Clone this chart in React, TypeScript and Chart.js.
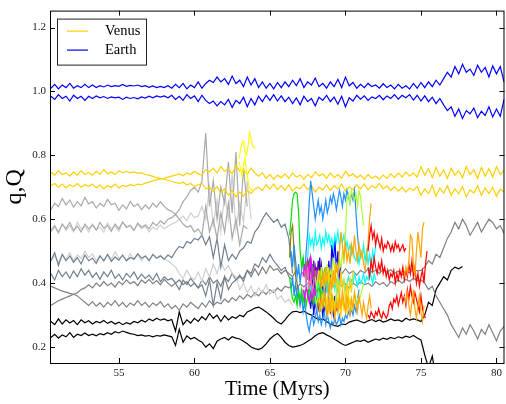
import React, { useEffect, useRef } from 'react';
import { Chart, registerables } from 'chart.js';

Chart.register(...registerables);

// ---------- axes / labels ----------
const X_TICKS = [55, 60, 65, 70, 75, 80];
const Y_TICKS = [0.2, 0.4, 0.6, 0.8, 1.0, 1.2];
const X_MIN = 50.44;
const X_MAX = 80.53;
const Y_MIN = 0.15;
const Y_MAX = 1.253;
const X_TITLE = 'Time (Myrs)';
const Y_TITLE = 'q,Q';
const LEGEND_LABELS = ['Venus', 'Earth'];

// ---------- sampling of the tracks (Myr) ----------
const LONG_START = 50.5;
const LONG_STEP = 0.25;
const SHORT_STEP = 0.1;

// ---------- long tracks (aphelion Q / perihelion q, AU) ----------
const EARTH_Q = [1.010,1.022,1.008,1.020,1.012,1.025,1.010,1.018,1.012,1.022,1.012,
 1.020,1.012,1.018,1.014,1.020,1.015,1.018,1.016,1.022,1.016,1.019,1.017,1.020,1.015,1.018,1.013,1.017,1.012,1.016,1.012,
 1.018,1.010,1.022,1.012,1.025,1.008,1.020,1.012,1.030,1.010,1.025,
 1.035,1.028,1.045,1.030,1.040,1.022,1.048,1.025,1.035,1.015,1.045,1.020,1.040,
 1.012,1.030,1.010,1.025,1.008,1.028,1.012,1.030,
 1.015,1.035,1.018,1.040,1.012,1.030,1.020,1.042,1.015,1.025,1.010,1.030,1.015,1.038,1.012,1.045,1.018,1.028,
 1.010,1.022,1.012,1.025,1.015,1.020,1.010,1.024,1.012,1.020,1.008,1.022,1.010,1.018,1.008,1.025,1.010,1.028,1.012,1.030,1.015,1.035,1.020,
 1.040,1.060,1.045,1.078,1.055,1.085,1.060,1.070,1.050,1.082,1.060,1.075,1.045,1.080,1.055,1.078,1.030];
const EARTH_q = [0.985,0.975,0.990,0.978,0.985,0.970,0.988,0.978,0.985,0.972,0.985,
 0.978,0.986,0.980,0.984,0.978,0.983,0.980,0.982,0.975,0.982,0.978,0.981,0.977,0.983,0.979,0.985,0.980,0.986,0.982,0.986,
 0.980,0.988,0.975,0.985,0.972,0.990,0.978,0.986,0.968,0.988,0.972,
 0.962,0.970,0.955,0.968,0.958,0.975,0.950,0.972,0.962,0.982,0.952,0.978,0.958,
 0.985,0.968,0.988,0.972,0.990,0.970,0.986,0.968,
 0.982,0.962,0.980,0.958,0.985,0.968,0.978,0.955,0.982,0.972,0.988,0.968,0.982,0.960,0.985,0.952,0.980,0.970,
 0.988,0.976,0.986,0.972,0.983,0.978,0.988,0.974,0.986,0.978,0.990,0.976,0.988,0.980,0.990,0.973,0.988,0.970,0.986,0.968,0.982,0.962,0.978,
 0.958,0.940,0.952,0.922,0.945,0.915,0.940,0.930,0.948,0.918,0.938,0.925,0.952,0.920,0.945,0.922,0.975];

const VENUS_Q = [0.748,0.738,0.752,0.740,0.745,0.735,0.748,0.738,0.752,0.740,0.746,
 0.738,0.750,0.740,0.755,0.742,0.748,0.740,0.752,0.745,0.750,
 0.745,0.748,0.744,0.745,0.740,0.738,0.734,0.730,0.727,
 0.728,0.732,0.735,0.738,0.742,0.736,0.745,0.740,0.750,0.742,0.738,0.755,
 0.748,0.760,0.745,0.765,0.750,0.758,0.742,0.768,0.750,0.755,0.740,0.760,0.745,
 0.735,0.745,0.728,0.740,0.725,0.738,0.730,0.742,0.728,0.745,0.732,0.738,0.725,0.740,0.730,0.748,0.735,0.742,0.728,0.745,0.730,0.740,0.728,0.750,0.735,0.742,0.730,0.738,0.725,0.740,0.728,0.735,0.725,0.738,0.728,0.742,0.730,0.745,0.732,0.748,0.735,
 0.745,0.732,0.765,0.738,0.758,0.730,0.762,0.735,0.755,0.728,0.760,0.738,0.752,0.730,0.765,0.740,0.755,0.728,0.762,0.735,0.758,0.732,0.765,0.740,0.752];
const VENUS_q = [0.705,0.712,0.700,0.710,0.698,0.708,0.702,0.712,0.700,0.708,0.703,
 0.710,0.698,0.708,0.695,0.705,0.700,0.710,0.698,0.706,0.702,
 0.708,0.705,0.710,0.708,0.713,0.716,0.720,0.724,0.727,
 0.726,0.722,0.718,0.715,0.712,0.716,0.708,0.712,0.702,0.708,0.712,0.695,
 0.700,0.688,0.702,0.682,0.695,0.675,0.690,0.670,0.685,0.672,0.690,0.680,0.695,
 0.700,0.690,0.708,0.695,0.710,0.692,0.705,0.690,0.708,0.688,0.700,0.695,0.710,0.692,0.705,0.685,0.700,0.692,0.708,0.690,0.705,0.695,0.710,0.688,0.702,0.692,0.708,0.695,0.710,0.692,0.705,0.698,0.712,0.695,0.705,0.690,0.702,0.688,0.700,0.685,0.698,
 0.690,0.702,0.675,0.695,0.680,0.705,0.672,0.698,0.682,0.705,0.675,0.695,0.680,0.702,0.670,0.692,0.682,0.705,0.675,0.698,0.680,0.700,0.672,0.695,0.685];

const DARKGRAY_Q = [0.630,0.650,0.640,0.665,0.645,0.660,0.638,0.655,0.642,0.668,0.648,0.655,0.635,0.650,0.640,0.662,0.645,0.650,0.628,0.645,0.632,0.655,0.640,0.648,0.630,0.645,0.632,0.650,0.638,0.655,0.640,0.630,0.625,0.615,
 0.630,0.655,0.670,0.690,0.700,0.685,
 0.720,0.870,0.640,0.720,0.600,0.700,0.650,0.780,0.620,0.810,0.580,0.760,0.640];
const DARKGRAY_q = [0.565,0.580,0.560,0.585,0.570,0.590,0.565,0.578,0.560,0.585,0.570,0.582,0.565,0.590,0.572,0.580,0.562,0.585,0.570,0.592,0.575,0.580,0.565,0.588,0.575,0.582,0.570,0.590,0.580,0.595,0.585,0.600,0.605,0.615,
 0.600,0.585,0.575,0.580,0.560,0.570,
 0.550,0.640,0.560,0.600,0.540,0.620,0.560,0.650,0.540,0.600,0.520,0.580,0.570];

const LIGHTGRAY_Q = [0.560,0.575,0.555,0.585,0.565,0.580,0.560,0.590,0.570,0.578,0.560,0.585,0.568,0.575,0.560,0.588,0.570,0.580,0.562,0.590,0.575,0.582,0.565,0.585,0.570,0.578,0.560,0.575,0.568,0.582,0.570,0.578,0.585,0.590,
 0.600,0.610,0.595,0.620,0.605,0.610,
 0.640,0.600,0.700,0.580,0.660,0.560,0.680,0.600,0.740,0.570,0.650,0.590,0.720,0.600];
const LIGHTGRAY_q = [0.470,0.485,0.465,0.490,0.475,0.495,0.470,0.488,0.478,0.500,0.480,0.492,0.470,0.485,0.468,0.490,0.475,0.498,0.478,0.485,0.470,0.492,0.475,0.488,0.470,0.485,0.472,0.490,0.478,0.488,0.475,0.470,0.460,0.450,
 0.430,0.415,0.440,0.420,0.410,0.435,0.405,0.445,0.420,0.460,0.430,0.470,0.440,0.455,0.430,0.420,0.380,0.400,0.370,0.390,0.360,0.385,0.370,0.395,0.365,0.380,0.350,0.360,0.340,0.350,0.330];

const SLATE_Q = [0.470,0.495,0.455,0.490,0.470,0.485,0.465,0.480,0.460,0.488,0.470,0.478,0.462,0.485,0.470,0.490,0.468,0.482,0.472,0.488,0.470,0.480,0.475,0.492,0.478,0.485,0.470,0.490,0.478,0.485,0.475,0.488,0.480,
 0.500,0.515,0.510,0.530,0.525,0.540,0.535,
 0.550,0.520,0.545,0.480,0.540,0.450,0.520,0.470,
 0.490,0.475,0.500,0.510,0.530,0.525,0.560,0.575,0.600,0.620,0.605,0.590,0.600,0.575,0.585,0.540,0.430];
const SLATE_q = [0.430,0.410,0.440,0.420,0.435,0.415,0.438,0.420,0.445,0.425,0.440,0.418,0.432,0.412,0.435,0.420,0.440,0.415,0.428,0.410,0.430,0.418,0.435,0.412,0.428,0.415,0.425,0.410,0.430,0.405,0.420,0.410,0.415,
 0.400,0.410,0.395,0.405,0.390,0.400,0.385,
 0.395,0.360,0.410,0.330,0.400,0.350,0.420,0.380,
 0.400,0.410,0.420,0.415,0.440,0.430,0.460,0.450,0.480,0.465,0.490,0.470,0.455,0.440,0.450,0.420,0.410];

const GRAY_Q = [0.390,0.385,0.380,0.375,0.372,0.368,0.365,
 0.370,0.380,0.385,0.395,0.385,0.400,0.390,0.405,0.392,0.400,0.388,0.405,0.395,0.410,0.398,0.405,0.392,0.410,0.400,0.412,0.398,0.408,0.395,0.412,0.400,0.390,
 0.400,0.380,0.410,0.395,0.415,0.400,0.385,0.410,0.395,0.420,0.400,0.410,0.390,0.420,0.405,0.430,0.410,0.425,0.405,0.440,0.420,0.445,0.425,0.450,0.430,0.455,0.440,0.445,0.430,0.440,
 0.430,0.420,0.440,0.425,0.435,0.420,0.438,0.428,0.440,0.425,0.435,0.420,0.432,0.440,0.428,0.445,0.430,0.438,0.425,0.440,0.432,0.445,0.435,0.440,0.430,0.445,0.435,0.442,0.430,0.438,0.425,0.440,0.432,0.445,0.438,0.440,
 0.450,0.470,0.460,0.490,0.480,0.510,0.540,0.560,0.590,0.570,0.600,0.580,0.550,0.570,0.590,0.560,0.580,0.600,0.590,0.570,0.580,0.555];
const GRAY_q = [0.330,0.338,0.345,0.350,0.355,0.360,0.365,
 0.360,0.350,0.340,0.330,0.342,0.328,0.338,0.325,0.340,0.330,0.345,0.328,0.340,0.325,0.338,0.330,0.345,0.330,0.340,0.325,0.338,0.330,0.342,0.325,0.335,0.320,
 0.330,0.315,0.335,0.325,0.340,0.330,0.320,0.338,0.325,0.345,0.330,0.340,0.335,0.350,0.340,0.355,0.345,0.360,0.350,0.365,0.355,0.370,0.360,0.375,0.365,0.380,0.370,0.385,0.375,0.390,
 0.385,0.395,0.380,0.398,0.388,0.400,0.390,0.395,0.385,0.400,0.392,0.398,0.388,0.402,0.390,0.398,0.385,0.400,0.392,0.405,0.395,0.400,0.390,0.405,0.395,0.402,0.390,0.405,0.398,0.410,0.400,0.412,0.405,0.415,0.408,0.410,
 0.400,0.380,0.390,0.360,0.340,0.320,0.300,0.270,0.250,0.230,0.260,0.240,0.270,0.250,0.225,0.255,0.240,0.270,0.245,0.220,0.250,0.265];

const BLACK_Q = [0.280,0.270,0.288,0.272,0.285,0.275,0.283,0.270,0.285,0.276,0.282,0.272,0.280,0.276,0.283,0.274,0.280,0.272,0.278,0.270,0.276,0.272,0.280,0.276,0.284,0.278,0.288,0.282,0.290,0.284,0.288,0.282,0.286,
 0.250,0.310,0.270,0.285,0.275,0.290,0.280,
 0.295,0.285,0.305,0.290,0.300,0.280,0.298,0.285,0.295,0.290,0.300,0.295,0.310,0.315,0.322,
 0.325,0.318,0.310,0.300,0.290,0.278,0.272,0.285,0.300,0.310,0.312,0.308,
 0.312,0.305,0.300,0.292,0.285,0.288,0.280,0.272,0.268,0.265,0.272,0.270,0.278,0.282,0.285,0.280,0.276,0.282,0.286,0.280,0.285,0.278,0.282,0.288,0.283,0.285,0.280,0.290,0.284,0.288,0.285,0.280,
 0.300,0.340,0.330,0.380,0.400,0.420,0.410,0.440,0.450,0.445,0.452];
const BLACK_q = [0.230,0.240,0.228,0.238,0.232,0.245,0.230,0.240,0.236,0.244,0.236,0.240,0.235,0.242,0.238,0.245,0.240,0.248,0.244,0.250,0.246,0.242,0.240,0.236,0.238,0.234,0.236,0.232,0.236,0.234,0.238,0.235,0.232,
 0.205,0.255,0.215,0.235,0.225,0.230,0.222,
 0.215,0.200,0.210,0.195,0.218,0.225,0.230,0.222,0.232,0.228,0.225,0.218,0.210,0.200,0.195,
 0.192,0.198,0.210,0.225,0.235,0.242,0.230,0.215,0.205,0.200,0.202,0.205,
 0.210,0.218,0.225,0.235,0.242,0.245,0.238,0.232,0.225,0.218,0.210,0.205,0.210,0.215,0.220,0.218,0.222,0.215,0.220,0.225,0.222,0.228,0.224,0.230,0.226,0.232,0.228,0.234,0.230,0.236,0.228,0.222,
 0.175,0.135,0.172,0.100];

// ---------- short tracks ----------
const YELLOW_START = 62.95;
const YELLOW_Q = [0.790,0.815,0.840,0.845,0.810,0.800,0.830,0.870,0.850,0.830,0.825,0.822];
const YELLOW_q = [0.780,0.760,0.735,0.770,0.790,0.750,0.720,0.700,0.690,0.695];

const OLIVE_START = 66.3;
const OLIVE = [0.48,0.56,0.58,0.50,0.42,0.40,0.36,0.33];

const GREEN_START = 66.3;
const GREEN_Q = [0.55,0.60,0.66,0.68,0.685,0.68,0.62,0.50,0.45,0.48,0.43,0.47,0.41,0.46,0.42,0.45,0.40,0.44,0.38,0.42,0.39,0.43,0.40,0.44,0.41,0.45];
const GREEN_q = [0.42,0.38,0.35,0.34,0.36,0.33,0.37,0.35,0.38,0.34,0.37,0.33,0.36,0.39,0.35,0.38,0.34,0.37,0.40,0.36,0.39,0.35,0.38];

const DODGER_START = 66.4;
const DODGER_Q = [0.50,0.45,0.52,0.47,0.42,0.46,0.40,0.44,0.48,0.42,0.50,0.56,0.65,0.72,0.68,0.64,0.60,0.63,0.66,0.62,0.64,0.60,0.63,0.66,0.62,0.64,0.67,0.65,0.68,0.66,0.63,0.66,0.69,0.67,0.64,0.68,0.66,0.69,0.67,0.65,0.68,0.66,0.69,0.62,0.55,0.50];
const DODGER_q = [0.38,0.42,0.36,0.40,0.35,0.38,0.33,0.36,0.31,0.34,0.30,0.27,0.25,0.28,0.30,0.27,0.29,0.32,0.28,0.30,0.27,0.29,0.31,0.27,0.30,0.28,0.26,0.28,0.27,0.29,0.27,0.28,0.30,0.27,0.29,0.28,0.30,0.29,0.31,0.30,0.32,0.30,0.33,0.31,0.35,0.38];

const CYAN_START = 67.5;
const CYAN_Q = [0.48,0.55,0.52,0.54,0.51,0.56,0.52,0.53,0.55,0.51,0.54,0.52,0.56,0.53,0.55,0.52,0.54,0.51,0.55,0.53,0.56,0.52,0.54,0.53,0.55,0.51,0.53,0.50,0.52,0.49,0.51,0.48,0.47,0.49,0.46,0.50,0.48,0.52,0.47,0.50,0.46,0.49,0.45,0.50,0.47,0.52];
const CYAN_q = [0.40,0.36,0.39,0.35,0.38,0.34,0.37,0.40,0.36,0.39,0.35,0.38,0.41,0.37,0.40,0.36,0.39,0.42,0.38,0.41,0.37,0.40,0.43,0.39,0.41,0.38,0.40,0.42,0.39,0.41,0.40,0.43,0.41,0.39,0.42,0.40,0.41,0.43,0.40,0.42,0.41,0.44,0.42,0.40,0.43,0.41];

const MAGENTA_START = 67.2;
const MAGENTA_Q = [0.42,0.46,0.40,0.47,0.43,0.48,0.41,0.45,0.39,0.44];
const MAGENTA_q = [0.38,0.35,0.39,0.36,0.34,0.37,0.35,0.38,0.36,0.40];

const PINK_START = 67.3;
const PINK = [0.44,0.40,0.45,0.38,0.43,0.37,0.41];

const VIOLET_START = 67.4;
const VIOLET = [0.42,0.47,0.44,0.48,0.43,0.46,0.41,0.45];

const INDIGO_START = 67.5;
const INDIGO_Q = [0.44,0.47,0.42,0.46,0.40,0.45,0.41,0.47,0.43,0.46,0.40];
const INDIGO_q = [0.38,0.35,0.40,0.34,0.37,0.33,0.36,0.32,0.35,0.38,0.34];

const BLUE_START = 67.6;
const BLUE_Q = [0.40,0.46,0.38,0.47,0.35,0.44,0.36,0.48,0.34,0.42,0.31,0.45,0.37,0.47,0.40,0.52,0.46,0.54,0.44,0.50,0.40,0.46];
const BLUE_q = [0.36,0.32,0.38,0.30,0.35,0.33,0.37,0.31,0.36,0.29,0.34,0.32,0.30,0.35,0.31,0.33,0.30,0.36,0.32,0.34];

const GYELLOW_START = 68.0;
const GYELLOW_Q = [0.42,0.38,0.44,0.40,0.45,0.39,0.43,0.41,0.46,0.40,0.44,0.42,0.48,0.44,0.46,0.43,0.47,0.45,0.50,0.46,0.55,0.66,0.68,0.65,0.69,0.67,0.66,0.68,0.64,0.69,0.67,0.62,0.58];
const GYELLOW_q = [0.36,0.33,0.37,0.34,0.32,0.36,0.33,0.35,0.31,0.34,0.36,0.32,0.35,0.33,0.37,0.34,0.36,0.33,0.35,0.32,0.34,0.36,0.33,0.35,0.32,0.34,0.37,0.33,0.35,0.34,0.36,0.38,0.40];

const ORANGE1_START = 68.2;
const ORANGE1_Q = [0.40,0.44,0.38,0.43,0.39,0.45,0.41,0.36,0.42,0.38,0.44,0.40,0.46,0.42,0.50,0.56,0.52,0.48,0.53,0.47,0.50,0.46,0.52,0.49,0.55,0.50,0.47,0.52,0.48,0.50,0.46,0.44,0.48,0.53,0.60,0.65];
const ORANGE1_q = [0.35,0.31,0.36,0.32,0.38,0.33,0.30,0.35,0.31,0.37,0.33,0.29,0.34,0.31,0.36,0.32,0.38,0.34,0.31,0.36,0.33,0.30,0.35,0.32,0.37,0.34,0.31,0.36,0.33,0.30,0.34,0.31,0.29,0.33,0.36,0.32];

const GOLD2_START = 68.5;
const GOLD2_Q = [0.42,0.38,0.44,0.40,0.45,0.36,0.43,0.39,0.46,0.37,0.42,0.35,0.44,0.38,0.41,0.34,0.40,0.36,0.42,0.37,0.44];
const GOLD2_q = [0.34,0.37,0.32,0.36,0.31,0.35,0.30,0.34,0.32,0.36,0.31,0.33,0.30,0.35,0.32,0.34,0.31,0.36,0.33,0.35,0.32];

const RED_START = 71.5;
const RED_A_Q = [0.50,0.55,0.58,0.54,0.56,0.52,0.55,0.53,0.51,0.54,0.50,0.52,0.51,0.53,0.52,0.50,0.52,0.50,0.53,0.51,0.52,0.50,0.51,0.52,0.50,0.51];
const RED_B_Q = [0.45,0.42,0.47,0.44,0.48,0.45,0.43,0.46,0.44,0.47,0.43,0.45,0.42,0.44,0.41,0.43,0.42,0.44,0.40,0.43,0.41,0.44,0.42,0.45,0.41,0.44,0.42,0.46,0.43,0.47,0.42,0.45,0.40,0.43,0.39,0.42,0.44,0.40,0.46,0.50];
const RED_B_q = [0.30,0.29,0.31,0.30,0.29,0.31,0.30,0.32,0.30,0.29,0.31,0.30,0.29,0.30,0.33,0.34,0.32,0.35,0.34,0.36,0.33,0.35,0.37,0.34,0.36,0.33,0.38,0.35,0.39,0.36,0.34,0.37,0.35,0.33,0.31,0.36,0.32,0.30,0.29];

const ORANGE2_START = 73.9;
const ORANGE2_Q = [0.42,0.45,0.43,0.47,0.55,0.54,0.46,0.42,0.50,0.56,0.52,0.48,0.57,0.59];
const ORANGE2_q = [0.36,0.34,0.37,0.33,0.30,0.34,0.38,0.32,0.29,0.33,0.36,0.31,0.28,0.33];

// ---------- styles ----------
const C = {
  earth: '#0000ff', venus: '#ffd000', yellow: '#ffff00', darkgray: '#a9a9a9', lightgray: '#d0d0d0',
  slate: '#708090', gray: '#808080', black: '#000000', olive: '#808000', green: '#00e000',
  dodger: '#1e90ff', cyan: '#00ffff', magenta: '#ff00ff', pink: '#ff69b4', violet: '#9400d3',
  indigo: '#4b0082', blue: '#0000ff', gyellow: '#adff2f', orange: '#ffa500', red: '#ff0000',
};

// drawn bottom -> top
const TRACKS: [number[], number, number, string][] = [
  [BLACK_Q, LONG_START, LONG_STEP, C.black],
  [BLACK_q, LONG_START, LONG_STEP, C.black],
  [GRAY_Q, LONG_START, LONG_STEP, C.gray],
  [GRAY_q, LONG_START, LONG_STEP, C.gray],
  [LIGHTGRAY_Q, LONG_START, LONG_STEP, C.lightgray],
  [LIGHTGRAY_q, LONG_START, LONG_STEP, C.lightgray],
  [SLATE_Q, LONG_START, LONG_STEP, C.slate],
  [SLATE_q, LONG_START, LONG_STEP, C.slate],
  [DARKGRAY_Q, LONG_START, LONG_STEP, C.darkgray],
  [DARKGRAY_q, LONG_START, LONG_STEP, C.darkgray],
  [VENUS_Q, LONG_START, LONG_STEP, C.venus],
  [VENUS_q, LONG_START, LONG_STEP, C.venus],
  [YELLOW_Q, YELLOW_START, SHORT_STEP, C.yellow],
  [YELLOW_q, YELLOW_START, SHORT_STEP, C.yellow],
  [EARTH_Q, LONG_START, LONG_STEP, C.earth],
  [EARTH_q, LONG_START, LONG_STEP, C.earth],
  [OLIVE, OLIVE_START, SHORT_STEP, C.olive],
  [BLUE_Q, BLUE_START, SHORT_STEP, C.blue],
  [BLUE_q, BLUE_START, SHORT_STEP, C.blue],
  [INDIGO_Q, INDIGO_START, SHORT_STEP, C.indigo],
  [INDIGO_q, INDIGO_START, SHORT_STEP, C.indigo],
  [VIOLET, VIOLET_START, SHORT_STEP, C.violet],
  [DODGER_Q, DODGER_START, SHORT_STEP, C.dodger],
  [DODGER_q, DODGER_START, SHORT_STEP, C.dodger],
  [CYAN_Q, CYAN_START, SHORT_STEP, C.cyan],
  [CYAN_q, CYAN_START, SHORT_STEP, C.cyan],
  [GREEN_Q, GREEN_START, SHORT_STEP, C.green],
  [GREEN_q, GREEN_START, SHORT_STEP, C.green],
  [MAGENTA_Q, MAGENTA_START, SHORT_STEP, C.magenta],
  [MAGENTA_q, MAGENTA_START, SHORT_STEP, C.magenta],
  [PINK, PINK_START, SHORT_STEP, C.pink],
  [GYELLOW_Q, GYELLOW_START, SHORT_STEP, C.gyellow],
  [GYELLOW_q, GYELLOW_START, SHORT_STEP, C.gyellow],
  [GOLD2_Q, GOLD2_START, SHORT_STEP, C.venus],
  [GOLD2_q, GOLD2_START, SHORT_STEP, C.venus],
  [ORANGE1_Q, ORANGE1_START, SHORT_STEP, C.orange],
  [ORANGE1_q, ORANGE1_START, SHORT_STEP, C.orange],
  [RED_A_Q, RED_START, SHORT_STEP, C.red],
  [RED_B_Q, RED_START, SHORT_STEP, C.red],
  [RED_B_q, RED_START, SHORT_STEP, C.red],
  [ORANGE2_Q, ORANGE2_START, SHORT_STEP, C.orange],
  [ORANGE2_q, ORANGE2_START, SHORT_STEP, C.orange],
];

const SERIF = "'Liberation Serif', 'Times New Roman', Times, serif";

function toPoints(values: number[], start: number, step: number) {
  return values.map((y, i) => ({ x: Math.round((start + i * step) * 1000) / 1000, y }));
}

const framePlugin = {
  id: 'frameAndLegend',
  afterDatasetsDraw(chart: any) {
    const { ctx, chartArea: a, scales } = chart;
    ctx.save();
    ctx.strokeStyle = '#000';
    ctx.lineWidth = 1;
    ctx.strokeRect(a.left + 0.5, a.top + 0.5, a.right - a.left - 1, a.bottom - a.top);
    const L = 5;
    ctx.beginPath();
    for (const t of scales.x.ticks) {
      const px = Math.round(scales.x.getPixelForValue(t.value)) + 0.5;
      ctx.moveTo(px, a.bottom); ctx.lineTo(px, a.bottom - L);
      ctx.moveTo(px, a.top); ctx.lineTo(px, a.top + L);
    }
    for (const t of scales.y.ticks) {
      const py = Math.round(scales.y.getPixelForValue(t.value)) + 0.5;
      ctx.moveTo(a.left, py); ctx.lineTo(a.left + L, py);
      ctx.moveTo(a.right, py); ctx.lineTo(a.right - L, py);
    }
    ctx.stroke();

    // legend box
    const bx = a.left + 7, by = a.top + 8, bw = 89, bh = 46;
    ctx.fillStyle = '#fff';
    ctx.fillRect(bx, by, bw, bh);
    ctx.strokeStyle = '#222';
    ctx.strokeRect(bx + 0.5, by + 0.5, bw, bh);
    const entries = [
      { label: LEGEND_LABELS[0], color: C.venus, y: by + 12.5 },
      { label: LEGEND_LABELS[1], color: C.earth, y: by + 31.5 },
    ];
    ctx.font = `14.5px ${SERIF}`;
    ctx.textBaseline = 'middle';
    ctx.textAlign = 'left';
    for (const e of entries) {
      ctx.strokeStyle = e.color;
      ctx.lineWidth = 1.2;
      ctx.beginPath();
      ctx.moveTo(bx + 10, e.y); ctx.lineTo(bx + 31, e.y);
      ctx.stroke();
      ctx.fillStyle = '#000';
      ctx.fillText(e.label, bx + 48, e.y + 0.5);
    }
    ctx.restore();
  },
};

export default function App() {
  const ref = useRef<HTMLCanvasElement | null>(null);
  useEffect(() => {
    if (!ref.current) return;
    const n = TRACKS.length;
    const datasets = TRACKS.map(([vals, start, step, color], i) => ({
      data: toPoints(vals, start, step),
      borderColor: color,
      backgroundColor: color,
      borderWidth: 1.2,
      pointRadius: 0,
      tension: 0,
      fill: false,
      order: n - i,
    }));
    const chart = new Chart(ref.current, {
      type: 'line',
      data: { datasets },
      options: {
        animation: false,
        responsive: false,
        devicePixelRatio: 1,
        events: [],
        layout: { padding: { top: 7, right: 1, left: 0, bottom: 0 } },
        plugins: { legend: { display: false }, tooltip: { enabled: false } },
        scales: {
          x: {
            type: 'linear',
            min: X_MIN,
            max: X_MAX,
            afterBuildTicks: (s: any) => { s.ticks = X_TICKS.map((v) => ({ value: v })); },
            afterFit: (s: any) => { s.height = 41; },
            grid: { display: false, drawTicks: false },
            border: { display: false },
            ticks: {
              font: { family: SERIF, size: 11 },
              color: '#222',
              padding: 4,
              maxRotation: 0,
              autoSkip: false,
              callback: (v: any) => String(v),
            },
            title: {
              display: true,
              text: X_TITLE,
              font: { family: SERIF, size: 20.5 },
              color: '#000',
              padding: { top: 0, bottom: 2 },
            },
          },
          y: {
            type: 'linear',
            min: Y_MIN,
            max: Y_MAX,
            afterBuildTicks: (s: any) => { s.ticks = Y_TICKS.map((v) => ({ value: v })); },
            afterFit: (s: any) => { s.width = 50; },
            grid: { display: false, drawTicks: false },
            border: { display: false },
            ticks: {
              font: { family: SERIF, size: 11 },
              color: '#222',
              padding: 4,
              autoSkip: false,
              callback: (v: any) => Number(v).toFixed(1),
            },
            title: {
              display: true,
              text: Y_TITLE,
              font: { family: SERIF, size: 24 },
              color: '#000',
              padding: { top: 0, bottom: 0 },
            },
          },
        },
      } as any,
      plugins: [framePlugin],
    });
    return () => chart.destroy();
  }, []);
  return (
    <div style={{ position: 'absolute', left: 0, top: 0, width: 506, height: 404, background: '#fff' }}>
      <canvas ref={ref} width={506} height={404} style={{ display: 'block', width: 506, height: 404 }} />
    </div>
  );
}
